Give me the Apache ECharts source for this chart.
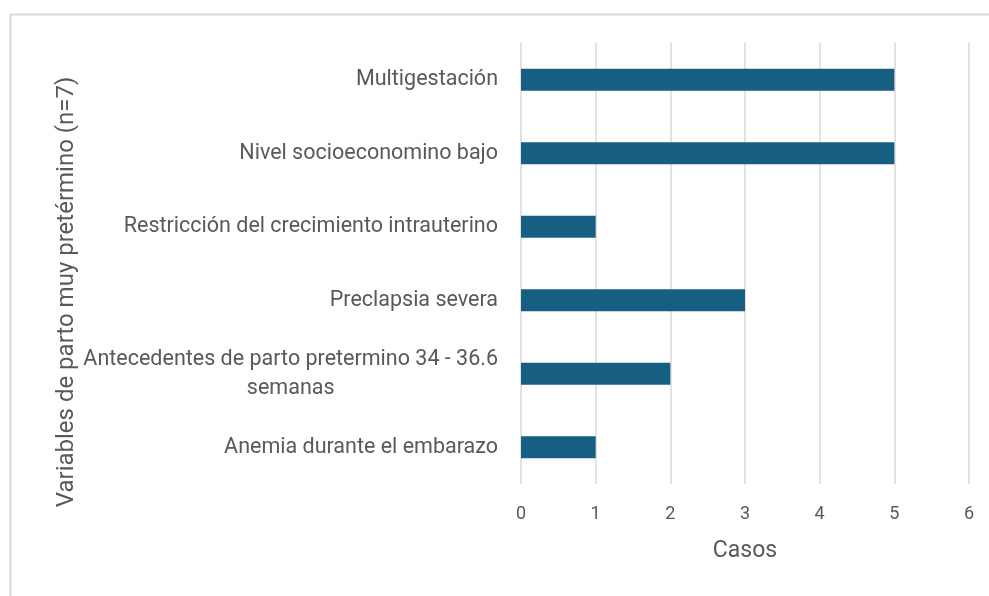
<!DOCTYPE html>
<html>
<head>
<meta charset="utf-8">
<script src="https://cdn.jsdelivr.net/npm/echarts@6/dist/echarts.min.js"></script>
<style>
  html, body { margin: 0; padding: 0; background: #fff; }
  #chart { width: 989px; height: 596px; }
</style>
</head>
<body>
<div id="chart"></div>
<script>
// categorias de abajo hacia arriba
var categorias = [
    'Anemia durante el embarazo',
    'Antecedentes de parto pretermino 34 - 36.6\nsemanas',
    'Preclapsia severa',
    'Restricción del crecimiento intrauterino',
    'Nivel socioeconomino bajo',
    'Multigestación'
];
var casos = [1, 2, 3, 1, 5, 5];
var ticksX = [0, 1, 2, 3, 4, 5, 6];

var myChart = echarts.init(document.getElementById('chart'));

var option = {
    animation: false,
    backgroundColor: '#fff',
    textStyle: { fontFamily: 'Roboto' },
    graphic: [
        {
            type: 'rect',
            shape: { x: 10.5, y: 14.5, width: 1000, height: 600 },
            style: { fill: 'none', stroke: '#d9d9d9', lineWidth: 2 },
            silent: true
        },
        {
            type: 'text',
            x: 67,
            y: 292,
            rotation: Math.PI / 2,
            style: {
                text: 'Variables de parto muy pretérmino (n=7)',
                fill: '#595959',
                font: '24px Roboto',
                align: 'center',
                verticalAlign: 'middle'
            }
        }
    ],
    grid: {
        left: 521,
        right: 20,
        top: 43,
        bottom: 112
    },
    xAxis: {
        type: 'value',
        min: ticksX[0],
        max: ticksX[ticksX.length - 1],
        interval: 1,
        name: 'Casos',
        nameLocation: 'middle',
        nameGap: 56,
        nameTextStyle: { color: '#595959', fontSize: 23 },
        axisLine: { show: false },
        axisTick: { show: false },
        axisLabel: { color: '#595959', fontSize: 18, margin: 21 },
        splitLine: { lineStyle: { color: '#d9d9d9', width: 1.5 } }
    },
    yAxis: {
        type: 'category',
        data: categorias,
        axisLine: { show: false },
        axisTick: { show: false },
        axisLabel: {
            color: '#595959',
            fontSize: 21.5,
            margin: 23,
            formatter: function (v) {
                var partes = v.split('\n');
                return partes.map(function (p) { return '{c|' + p + '}'; }).join('\n');
            },
            rich: {
                c: { color: '#595959', fontSize: 21.5, align: 'center', lineHeight: 29 }
            }
        }
    },
    series: [
        {
            type: 'bar',
            data: casos,
            barWidth: 22,
            itemStyle: { color: '#175f82' }
        }
    ]
};

myChart.setOption(option);
</script>
</body>
</html>
